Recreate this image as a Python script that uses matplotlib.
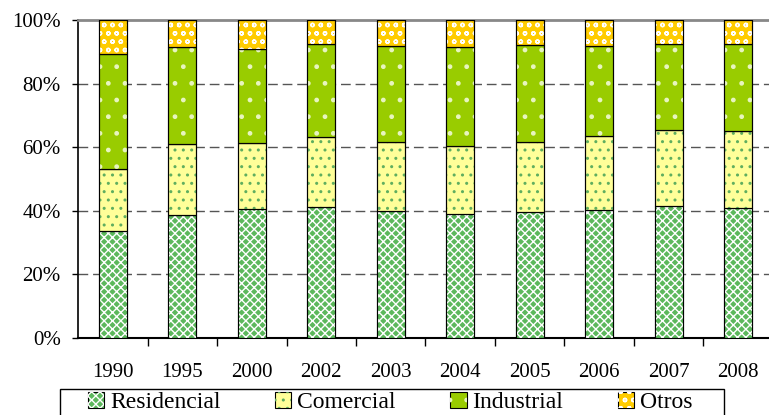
import numpy as np
import matplotlib
matplotlib.use("Agg")
import matplotlib.pyplot as plt
from matplotlib.patches import Patch, Rectangle

# values (percent of total)
years = ["1990", "1995", "2000", "2002", "2003", "2004", "2005", "2006", "2007", "2008"]
residencial = [33.7, 38.6, 40.5, 41.2, 39.8, 38.8, 39.5, 40.1, 41.5, 40.7]
comercial = [19.5, 22.3, 20.7, 22.0, 21.9, 21.6, 22.0, 23.3, 23.8, 24.4]
industrial = [36.1, 30.6, 29.7, 29.3, 30.2, 31.1, 30.5, 28.5, 27.1, 27.5]
otros = [10.7, 8.5, 9.1, 7.5, 8.1, 8.5, 8.0, 8.1, 7.6, 7.4]
series_names = ["Residencial", "Comercial", "Industrial", "Otros"]

plt.rcParams['font.family'] = ['Liberation Serif', 'DejaVu Serif']
plt.rcParams['hatch.linewidth'] = 1.0

# face colour, hatch colour, hatch pattern for each series
styles = [
    ("#5cb85c", "white", "xxxx"),
    ("#ffff99", "#5fae5f", ".."),
    ("#99cc00", "#e8f5c0", "."),
    ("#ffcc00", "white", "oo"),
]

fig = plt.figure(figsize=(7.69, 4.15), dpi=100)
ax = fig.add_axes([78 / 769, 77.3 / 415, 695 / 769, 317.7 / 415])

x = np.arange(len(years))
bottom = np.zeros(len(years))
handles = []
for vals, (face, hcol, hatch) in zip([residencial, comercial, industrial, otros], styles):
    vals = np.array(vals)
    ax.bar(x, vals, 0.4, bottom=bottom, color=face, edgecolor="black", linewidth=0.8, zorder=3)
    ax.bar(x, vals, 0.4, bottom=bottom, color="none", edgecolor=hcol, linewidth=0, hatch=hatch, zorder=3)
    ax.bar(x, vals, 0.4, bottom=bottom, color="none", edgecolor="black", linewidth=0.8, zorder=3)
    bottom += vals
    handles.append((Patch(facecolor=face, edgecolor="black", linewidth=0.8),
                    Patch(facecolor="none", edgecolor=hcol, linewidth=0, hatch=hatch)))

ax.set_xlim(-0.5, len(years) - 0.5)
ax.set_ylim(0, 100)
ax.set_yticks(np.arange(0, 101, 20))
ax.set_yticklabels([f"{v}%" for v in range(0, 101, 20)])
ax.set_xticks(x)
ax.set_xticklabels(years)
ax.set_xticks(np.arange(0.5, len(years) - 0.5, 1), minor=True)
ax.tick_params(axis="x", which="major", length=0, pad=18, labelsize=15)
ax.tick_params(axis="x", which="minor", length=6, direction="out", width=1)
ax.tick_params(axis="y", length=4.5, direction="out", pad=8, labelsize=15, width=1)

for v in [20, 40, 60, 80]:
    ax.axhline(v, color="#555555", linewidth=1, dashes=(7, 3.5), zorder=1)

ax.spines["right"].set_visible(False)
ax.spines["top"].set_color("#888888")
ax.spines["top"].set_linewidth(2)
ax.spines["left"].set_linewidth(1.2)
ax.spines["bottom"].set_linewidth(1.5)

# legend box runs off the bottom of the picture, so draw the frame by hand
fig.patches.append(Rectangle((60 / 769, -0.05), 664 / 769, 0.05 + 1 - 389 / 415,
                             transform=fig.transFigure, facecolor="none",
                             edgecolor="black", linewidth=1))
fig.legend(handles, series_names, loc="upper left", ncol=4,
           bbox_to_anchor=(88 / 769, 1 - 392 / 415),
           fontsize=17, frameon=False,
           handlelength=0.68, handleheight=0.68, handletextpad=0.25,
           columnspacing=2.32, borderpad=0, borderaxespad=0)

fig.savefig("out.png", dpi=100)
